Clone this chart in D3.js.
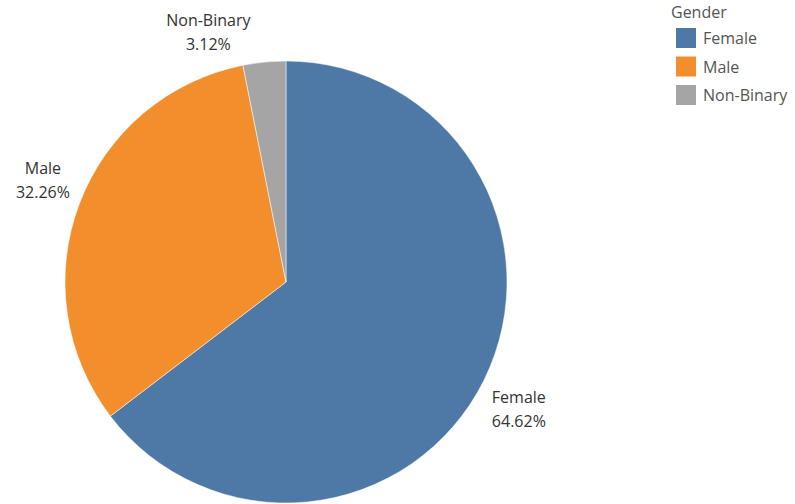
<!DOCTYPE html>
<html>
 <head>
    <style>
        body { margin: 0; background: #fff; }
        svg { display: block; }
        text { font-family: "Open Sans", "Noto Sans", sans-serif; }
    </style>
    <script src="https://d3js.org/d3.v7.min.js"></script>
 </head>
 <body>
    <div id="chart"></div>
    <script type="text/javascript">
        // data
        const categories = ["Female", "Male", "Non-Binary"];
        const shares = [64.62, 32.26, 3.12];
        const shareLabels = ["64.62%", "32.26%", "3.12%"];
        const colors = ["#4e79a7", "#f28e2b", "#a5a5a5"];
        const legendTitle = "Gender";

        const width = 795, height = 504;
        const cx = 286, cy = 282, radius = 221;

        const svg = d3.select("#chart").append("svg")
            .attr("width", width)
            .attr("height", height);

        const color = d3.scaleOrdinal().domain(categories).range(colors);

        const pie = d3.pie().sort(null).value((d, i) => shares[i]);
        const arcs = pie(categories);

        const arc = d3.arc().innerRadius(0).outerRadius(radius);

        const g = svg.append("g").attr("transform", "translate(" + cx + "," + cy + ")");

        g.selectAll("path")
            .data(arcs)
            .join("path")
            .attr("d", arc)
            .attr("fill", d => color(d.data))
            .attr("stroke", "#fff")
            .attr("stroke-width", 0.5);

        // labels sit outside the pie along each slice's mid angle
        const labelArc = d3.arc().innerRadius(262).outerRadius(262);
        const nudge = [[-2, 10], [2, -10], [-52, 10]];

        const labels = g.selectAll("text.lbl")
            .data(arcs)
            .join("text")
            .attr("class", "lbl")
            .attr("text-anchor", "middle")
            .attr("font-size", 16)
            .attr("fill", "#333")
            .attr("transform", (d, i) => {
                const p = labelArc.centroid(d);
                return "translate(" + (p[0] + nudge[i][0]) + "," + (p[1] + nudge[i][1]) + ")";
            });

        labels.append("tspan").attr("x", 0).attr("y", -5).text(d => d.data);
        labels.append("tspan").attr("x", 0).attr("y", 19).text((d, i) => shareLabels[i]);

        // legend
        const legend = svg.append("g").attr("transform", "translate(671,0)");
        legend.append("text")
            .attr("x", 0).attr("y", 18)
            .attr("font-size", 16)
            .attr("fill", "#555")
            .text(legendTitle);

        const rows = legend.selectAll("g.row")
            .data(categories)
            .join("g")
            .attr("class", "row")
            .attr("transform", (d, i) => "translate(0," + (28 + i * 28.5) + ")");

        rows.append("rect")
            .attr("x", 5).attr("y", 0)
            .attr("width", 20).attr("height", 20)
            .attr("fill", d => color(d));

        rows.append("text")
            .attr("x", 32).attr("y", 16)
            .attr("font-size", 16)
            .attr("fill", "#555")
            .text(d => d);
    </script>
 </body>
</html>
